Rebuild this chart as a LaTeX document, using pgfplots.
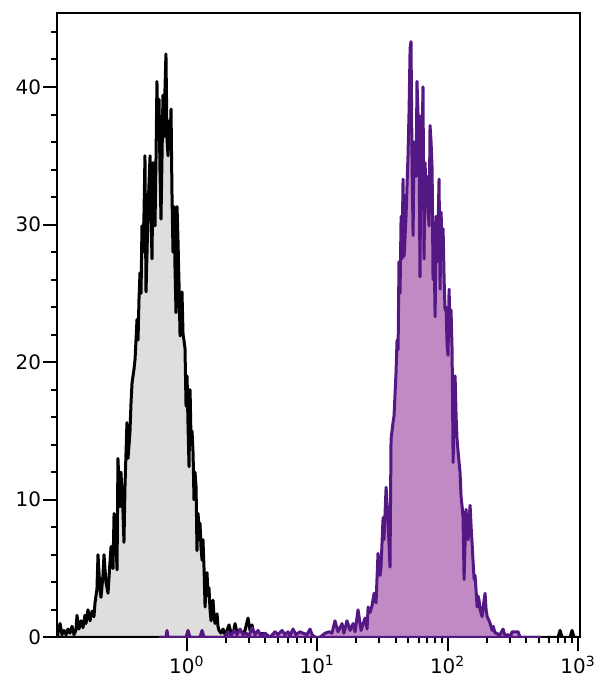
\documentclass[border=0pt]{standalone}
\usepackage{fontspec}
\setmainfont{DejaVu Sans}
\usepackage{pgfplots}
\usepackage{pgfplotstable}
\pgfplotsset{compat=1.18}
\definecolor{ctrlfill}{RGB}{222,222,222}
\definecolor{purfill}{RGB}{192,138,196}
\definecolor{purline}{RGB}{84,24,132}

% u = log10(fluorescence intensity), y = count
\pgfplotstableread{
u y
-0.988 0.3
-0.972 1.0
-0.957 0.2
-0.942 0.5
-0.926 0.2
-0.911 0.6
-0.896 0.3
-0.880 0.8
-0.865 0.2
-0.850 0.5
-0.842 1.6
-0.827 0.6
-0.811 1.2
-0.796 0.7
-0.781 1.6
-0.773 1.0
-0.758 2.0
-0.742 1.2
-0.727 1.9
-0.712 1.5
-0.704 2.5
-0.689 3.5
-0.681 6.0
-0.666 3.5
-0.658 2.9
-0.643 4.5
-0.635 6.0
-0.620 4.0
-0.604 3.2
-0.589 5.5
-0.581 6.6
-0.566 5.0
-0.558 9.0
-0.543 7.0
-0.535 4.9
-0.528 13.0
-0.512 9.5
-0.505 12.0
-0.489 9.0
-0.482 6.9
-0.474 11.0
-0.459 15.6
-0.451 13.0
-0.436 14.9
-0.428 17.0
-0.420 18.5
-0.405 19.5
-0.397 20.2
-0.382 23.1
-0.374 21.6
-0.367 24.5
-0.359 26.5
-0.351 25.0
-0.344 29.9
-0.336 28.0
-0.328 31.0
-0.321 35.0
-0.313 25.1
-0.305 28.0
-0.298 30.9
-0.290 33.0
-0.282 35.0
-0.275 31.0
-0.267 27.5
-0.259 34.5
-0.252 32.0
-0.244 29.9
-0.236 35.0
-0.229 40.4
-0.221 36.2
-0.213 39.1
-0.206 34.0
-0.198 30.4
-0.190 35.0
-0.183 39.4
-0.175 36.4
-0.167 40.0
-0.160 42.4
-0.152 36.2
-0.144 35.0
-0.137 37.5
-0.129 36.0
-0.121 38.4
-0.114 32.4
-0.106 28.0
-0.098 31.3
-0.091 27.0
-0.083 23.6
-0.075 31.3
-0.068 29.0
-0.060 25.8
-0.052 21.9
-0.045 24.0
-0.037 25.1
-0.029 22.0
-0.022 21.6
-0.014 21.0
-0.006 16.8
0.002 19.0
0.009 15.5
0.017 12.4
0.025 18.0
0.032 14.5
0.040 15.0
0.048 13.4
0.055 10.0
0.063 12.0
0.071 10.9
0.078 6.3
0.086 9.0
0.094 8.0
0.101 8.3
0.109 6.5
0.117 5.6
0.124 7.1
0.132 5.0
0.140 2.2
0.147 4.0
0.155 4.7
0.163 3.0
0.170 3.6
0.178 2.0
0.186 1.2
0.193 2.2
0.201 2.7
0.209 1.5
0.216 1.0
0.224 1.4
0.232 1.7
0.239 0.8
0.247 0.5
0.262 0.3
0.278 0.6
0.293 0.2
0.308 0.5
0.324 0.9
0.339 0.3
0.354 0.2
0.370 1.0
0.385 0.3
0.408 0.4
0.423 0.2
0.446 0.5
0.469 1.4
0.485 0.5
0.500 0.9
0.515 0.2
0.538 0.4
0.561 0.2
0.584 0.3
0.607 0.0
2.847 0.0
2.862 0.5
2.877 0.0
2.939 0.0
2.954 0.5
2.969 0.0
3.000 0.0
}\ctrldata

\pgfplotstableread{
u y
-0.206 0.0
-0.160 0.0
-0.152 0.5
-0.144 0.0
-0.006 0.0
0.009 0.5
0.025 0.0
0.101 0.0
0.117 0.5
0.132 0.0
0.293 0.0
0.316 0.4
0.339 0.1
0.362 0.5
0.385 0.2
0.408 0.6
0.431 0.2
0.454 0.3
0.477 0.1
0.500 0.7
0.523 0.2
0.546 0.5
0.569 0.1
0.600 0.3
0.638 0.0
0.676 0.4
0.699 0.2
0.730 0.5
0.753 0.2
0.776 0.4
0.791 0.1
0.814 0.6
0.837 0.2
0.868 0.4
0.891 0.3
0.922 0.2
0.945 0.6
0.960 0.2
0.983 0.0
1.021 0.0
1.060 0.3
1.090 0.4
1.113 0.3
1.136 1.2
1.159 0.4
1.175 0.7
1.190 1.0
1.205 0.3
1.228 1.2
1.252 0.5
1.275 1.0
1.290 0.4
1.313 2.0
1.336 0.5
1.352 1.0
1.367 1.4
1.382 0.6
1.390 2.2
1.405 1.8
1.420 2.3
1.436 3.2
1.451 2.5
1.466 6.1
1.482 4.5
1.489 5.1
1.505 8.7
1.512 7.1
1.528 10.9
1.543 8.5
1.558 5.1
1.566 14.4
1.581 15.6
1.589 16.1
1.604 19.2
1.612 21.6
1.620 20.9
1.627 27.3
1.635 25.0
1.643 30.6
1.650 27.5
1.658 33.3
1.666 27.7
1.673 29.0
1.681 30.6
1.689 33.0
1.696 35.0
1.704 38.2
1.712 42.8
1.719 43.3
1.727 34.5
1.735 29.2
1.742 36.0
1.750 35.0
1.758 33.5
1.765 40.4
1.773 38.0
1.781 35.7
1.788 26.2
1.796 37.9
1.804 36.0
1.811 40.0
1.819 27.5
1.827 34.5
1.835 32.0
1.842 33.5
1.850 31.0
1.858 29.9
1.865 37.2
1.873 36.0
1.881 34.0
1.888 26.0
1.896 28.0
1.904 23.3
1.911 30.6
1.919 27.3
1.927 30.0
1.934 33.3
1.942 25.3
1.950 30.9
1.957 28.0
1.965 29.7
1.973 26.0
1.980 23.8
1.988 24.0
1.996 21.1
2.003 20.5
2.011 25.3
2.019 22.0
2.026 23.8
2.034 20.9
2.042 12.7
2.049 17.0
2.057 19.0
2.065 16.0
2.072 14.4
2.080 13.5
2.088 12.7
2.095 12.0
2.103 10.2
2.111 9.5
2.118 8.7
2.126 4.2
2.134 7.0
2.141 9.3
2.149 8.0
2.157 7.1
2.164 8.5
2.172 9.6
2.180 8.0
2.187 6.9
2.195 5.5
2.203 4.2
2.210 4.5
2.218 3.4
2.226 2.2
2.233 3.0
2.241 2.7
2.249 2.0
2.264 1.5
2.272 2.2
2.287 3.2
2.295 2.0
2.303 1.5
2.318 1.2
2.326 1.0
2.341 0.5
2.349 0.8
2.364 0.3
2.379 0.3
2.395 0.1
2.402 0.2
2.425 0.6
2.440 0.1
2.463 0.2
2.479 0.0
2.494 0.4
2.517 0.4
2.540 0.4
2.556 0.0
2.709 0.0
}\purdata

\begin{document}
\begin{tikzpicture}
\useasboundingbox (-28.65bp,-26.35bp) rectangle (271.35bp,318.65bp);
\begin{axis}[
  at={(0,0)}, anchor=south west,
  scale only axis, width=261.35bp, height=312.3bp,
  xmode=log, xmin=0.1016, xmax=1035,
  ymin=0, ymax=45.4,
  axis line style={line width=1bp, black},
  tick style={line width=1bp, black},
  tick align=outside, tick pos=left,
  major tick length=7bp, minor tick length=3bp,
  xtick={1,10,100,1000},
  xticklabels={10\textsuperscript{0},10\textsuperscript{1},10\textsuperscript{2},10\textsuperscript{3}},
  ytick={0,10,20,30,40},
  yticklabels={0,10,20,30,40},
  minor ytick={2,4,6,8,12,14,16,18,22,24,26,28,32,34,36,38,42,44},
  ticklabel style={font=\fontsize{10}{12}\selectfont},
  yticklabel style={inner sep=1bp},
  xticklabel style={inner sep=2bp},
  clip=true,
]
\addplot[draw=black, line width=1.5bp, fill=ctrlfill, line join=round]
  table[x expr={10^\thisrow{u}}, y=y] {\ctrldata} \closedcycle;
\addplot[draw=purline, line width=1.5bp, fill=purfill, line join=round]
  table[x expr={10^\thisrow{u}}, y=y] {\purdata} \closedcycle;
\end{axis}
\end{tikzpicture}
\end{document}
